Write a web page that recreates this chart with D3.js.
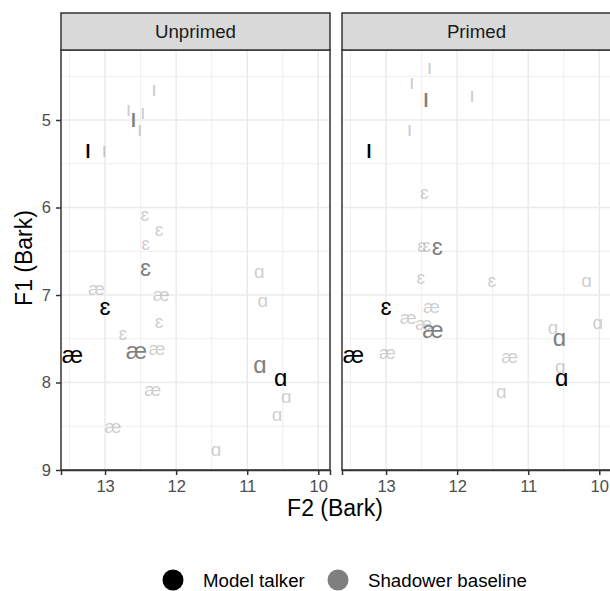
<!DOCTYPE html>
<html>
<head>
<meta charset="utf-8">
<script src="https://cdn.jsdelivr.net/npm/d3@7"></script>
<style>
body{margin:0;background:#fff}
svg{font-family:"Liberation Sans",Arial,Helvetica,sans-serif;display:block}
</style>
</head>
<body>
<svg id="chart" width="610" height="591"></svg>
<script>
// panels / vowels
var panels=['Unprimed','Primed']
var vowels=['ɪ','ɛ','æ','ɑ']
var xTicks=[13,12,11,10]
var yTicks=[5,6,7,8,9]

// model talker (same in both panels)
var modelF2=[13.24,13.0,13.46,10.53]
var modelF1=[5.35,7.15,7.70,7.97]

// shadower baseline means
var unprimedMeanF2=[12.60,12.43,12.56,10.82]
var unprimedMeanF1=[5.00,6.71,7.66,7.82]
var primedMeanF2=[12.44,12.28,12.34,10.56]
var primedMeanF1=[4.77,6.47,7.42,7.51]

// shadower tokens
var unprimedTokV=['ɪ','ɪ','ɪ','ɪ','ɪ','ɛ','ɛ','ɛ','ɛ','ɛ','æ','æ','æ','æ','æ','ɑ','ɑ','ɑ','ɑ','ɑ']
var unprimedTokF2=[12.31,12.67,12.47,12.51,13.01, 12.44,12.24,12.43,12.24,12.75, 13.12,12.21,12.27,12.33,12.89, 10.83,10.78,10.45,10.58,11.44]
var unprimedTokF1=[4.66,4.89,4.92,5.11,5.35, 6.10,6.27,6.43,7.32,7.46, 6.94,7.01,7.63,8.10,8.52, 6.75,7.08,8.18,8.38,8.78]
var primedTokV=['ɪ','ɪ','ɪ','ɪ','ɛ','ɛ','ɛ','ɛ','ɛ','æ','æ','æ','æ','æ','ɑ','ɑ','ɑ','ɑ','ɑ']
var primedTokF2=[12.39,12.64,11.79,12.67, 12.46,12.50,12.43,12.51,11.51, 12.36,12.69,12.47,12.98,11.26, 10.18,10.02,10.65,10.55,11.38]
var primedTokF1=[4.41,4.58,4.73,5.11, 5.84,6.45,6.45,6.82,6.85, 7.15,7.27,7.34,7.67,7.72, 6.85,7.33,7.39,7.83,8.12]

var legendLabels=['Model talker','Shadower baseline']
var legendColors=['#000000','#7f7f7f']

var svg=d3.select('#chart')
var conf={panelTop:50,panelBottom:470,stripTop:13,panelW:269,gap:12,left:61}
var x=d3.scaleLinear().domain([13.62,9.835]).range([0,conf.panelW])
var y=d3.scaleLinear().domain([4.2,9]).range([conf.panelTop,conf.panelBottom])

var means=[[unprimedMeanF2,unprimedMeanF1],[primedMeanF2,primedMeanF1]]
var toks=[[unprimedTokV,unprimedTokF2,unprimedTokF1],[primedTokV,primedTokF2,primedTokF1]]

// the small-cap I reads as a plain bar in the original, Lato draws it that way
function vfont(d){return d=='ɪ'?'Lato':null}
function vsize(base){return d=>d=='ɪ'?base*1.15:base}

panels.forEach(function(name,p){
    var ox=conf.left+p*(conf.panelW+conf.gap)
    var g=svg.append('g').attr('transform',`translate(${ox},0)`)
    var minorX=d3.range(13.5,9.8,-1), minorY=d3.range(4.5,9,1)
    // grid
    g.append('g').selectAll('line').data(minorX).join('line')
        .attr('x1',d=>x(d)).attr('x2',d=>x(d)).attr('y1',conf.panelTop).attr('y2',conf.panelBottom)
        .attr('stroke','#ebebeb').attr('stroke-width',0.8)
    g.append('g').selectAll('line').data(minorY).join('line')
        .attr('x1',0).attr('x2',conf.panelW).attr('y1',d=>y(d)).attr('y2',d=>y(d))
        .attr('stroke','#ebebeb').attr('stroke-width',0.8)
    g.append('g').selectAll('line').data(xTicks).join('line')
        .attr('x1',d=>x(d)).attr('x2',d=>x(d)).attr('y1',conf.panelTop).attr('y2',conf.panelBottom)
        .attr('stroke','#ebebeb').attr('stroke-width',1.5)
    g.append('g').selectAll('line').data(yTicks).join('line')
        .attr('x1',0).attr('x2',conf.panelW).attr('y1',d=>y(d)).attr('y2',d=>y(d))
        .attr('stroke','#ebebeb').attr('stroke-width',1.5)

    // shadower tokens
    var tv=toks[p]
    g.append('g').selectAll('text').data(tv[0]).join('text')
        .attr('x',(d,i)=>x(tv[1][i])).attr('y',(d,i)=>y(tv[2][i]))
        .attr('dy','0.27em').attr('text-anchor','middle')
        .attr('font-family',vfont).attr('font-size',vsize(19))
        .attr('fill','#7f7f7f').attr('fill-opacity',0.4)
        .text(d=>d)
    // shadower means
    var m=means[p]
    g.append('g').selectAll('text').data(vowels).join('text')
        .attr('x',(d,i)=>x(m[0][i])).attr('y',(d,i)=>y(m[1][i]))
        .attr('dy','0.27em').attr('text-anchor','middle')
        .attr('font-family',vfont).attr('font-size',vsize(24)).attr('fill','#7f7f7f')
        .text(d=>d)
    // model talker
    g.append('g').selectAll('text').data(vowels).join('text')
        .attr('x',(d,i)=>x(modelF2[i])).attr('y',(d,i)=>y(modelF1[i]))
        .attr('dy','0.27em').attr('text-anchor','middle')
        .attr('font-family',vfont).attr('font-size',vsize(24)).attr('fill','#000')
        .text(d=>d)

    // border + strip
    g.append('rect').attr('x',0).attr('y',conf.panelTop).attr('width',conf.panelW).attr('height',conf.panelBottom-conf.panelTop)
        .attr('fill','none').attr('stroke','#333').attr('stroke-width',1.5)
    g.append('rect').attr('x',0).attr('y',conf.stripTop).attr('width',conf.panelW).attr('height',conf.panelTop-conf.stripTop)
        .attr('fill','#d9d9d9').attr('stroke','#333').attr('stroke-width',1.5)
    g.append('text').attr('x',conf.panelW/2).attr('y',(conf.stripTop+conf.panelTop)/2).attr('dy','0.35em')
        .attr('text-anchor','middle').attr('font-size',18.7).attr('fill','#1a1a1a').text(name)

    // x axis
    var ax=g.append('g').attr('transform',`translate(0,${conf.panelBottom})`)
        .call(d3.axisBottom(x).tickValues(xTicks).tickSize(5).tickPadding(5).tickFormat(d3.format('d')))
    ax.select('.domain').attr('stroke','#333').attr('stroke-width',1.5)
    ax.selectAll('.tick line').attr('stroke','#333').attr('stroke-width',1.5)
    ax.selectAll('.tick text').attr('font-size',16.5).attr('fill','#4d4d4d').attr('font-family',null)
})

// y axis
var ay=svg.append('g').attr('transform',`translate(${conf.left},0)`)
    .call(d3.axisLeft(y).tickValues(yTicks).tickSize(5).tickPadding(5).tickFormat(d3.format('d')))
ay.select('.domain').remove()
ay.selectAll('.tick line').attr('stroke','#333').attr('stroke-width',1.5)
ay.selectAll('.tick text').attr('font-size',16.5).attr('fill','#4d4d4d').attr('font-family',null)

// titles
svg.append('text').attr('x',335).attr('y',516).attr('text-anchor','middle')
    .attr('font-size',23).attr('fill','#000').text('F2 (Bark)')
svg.append('text').attr('transform','translate(32,258) rotate(-90)').attr('text-anchor','middle')
    .attr('font-size',23).attr('fill','#000').text('F1 (Bark)')

// legend
var lg=svg.append('g').attr('transform','translate(173,580)')
var lx=[0,165]
lg.selectAll('circle').data(legendLabels).join('circle')
    .attr('cx',(d,i)=>lx[i]).attr('cy',0).attr('r',10.5).attr('fill',(d,i)=>legendColors[i])
lg.selectAll('text').data(legendLabels).join('text')
    .attr('x',(d,i)=>lx[i]+30).attr('y',0).attr('dy','0.35em')
    .attr('font-size',18.7).attr('fill','#000').text(d=>d)
</script>
</body>
</html>
